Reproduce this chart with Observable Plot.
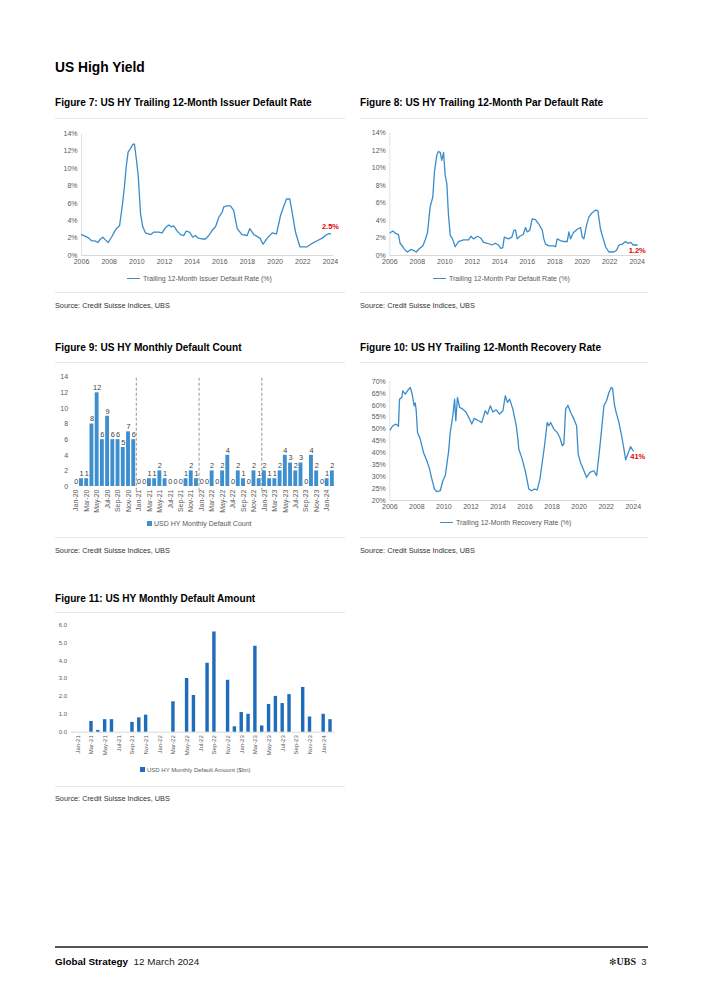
<!DOCTYPE html>
<html><head><meta charset="utf-8">
<script src="https://cdn.jsdelivr.net/npm/d3@7"></script>
<script src="https://cdn.jsdelivr.net/npm/@observablehq/plot@0.6"></script>
<style>
body{margin:0;background:#fff;font-family:"Liberation Sans",Arial,sans-serif;}
#page{position:relative;width:702px;height:992px;overflow:hidden;background:#fff;}
.abs{position:absolute;white-space:nowrap;line-height:1;}
.h1{font-weight:bold;font-size:13.8px;color:#000;}
.ft{font-weight:bold;font-size:10.1px;color:#000;}
.src{font-size:7.3px;color:#333;}
.sep{position:absolute;height:1px;background:#e8e8e8;}
.leg{font-size:7px;color:#595959;}
.chart{position:absolute;}
.chart svg{overflow:visible;}
</style></head><body><div id="page"></div>
<script>
// ---------- DATA ----------
const issuerYears = [2006.0,2006.29,2006.53,2006.72,2007.01,2007.2,2007.37,2007.54,2007.73,2007.93,2008.17,2008.41,2008.58,2008.75,2008.94,2009.11,2009.23,2009.37,2009.54,2009.71,2009.83,2009.98,2010.1,2010.27,2010.43,2010.63,2010.99,2011.23,2011.59,2011.83,2012.07,2012.31,2012.51,2012.67,2012.92,2013.16,2013.4,2013.57,2013.81,2014.05,2014.24,2014.43,2014.72,2014.96,2015.2,2015.45,2015.69,2015.93,2016.17,2016.29,2016.5,2016.77,2017.0,2017.26,2017.6,2017.98,2018.17,2018.46,2018.9,2019.13,2019.43,2019.79,2020.1,2020.39,2020.63,2020.82,2021.06,2021.23,2021.47,2021.79,2022.32,2022.68,2023.04,2023.4,2023.72,2023.88,2024.0];
const issuerRate = [2.4,2.2,2.0,1.7,1.65,1.5,1.9,2.1,1.8,1.5,2.1,2.8,3.2,3.4,5.6,8.0,10.2,11.9,12.3,12.8,12.8,10.9,9.2,4.8,3.3,2.6,2.4,2.7,2.7,2.6,3.2,3.5,3.3,3.4,2.8,2.4,2.3,2.8,2.7,2.1,2.3,2.0,1.9,1.9,2.3,2.9,3.3,4.4,5.0,5.6,5.7,5.7,5.2,3.1,2.4,2.3,3.1,2.4,2.0,1.3,2.0,2.6,2.5,4.6,5.7,6.5,6.5,5.0,2.7,1.0,1.0,1.4,1.7,2.0,2.4,2.5,2.5];

const parYears = [2006.03,2006.22,2006.46,2006.63,2006.75,2006.95,2007.12,2007.29,2007.53,2007.72,2007.92,2008.16,2008.4,2008.58,2008.74,2008.94,2009.13,2009.25,2009.42,2009.54,2009.67,2009.78,2009.91,2010.03,2010.15,2010.27,2010.4,2010.56,2010.76,2011.0,2011.36,2011.73,2011.9,2012.09,2012.38,2012.62,2012.82,2013.11,2013.42,2013.67,2013.91,2014.08,2014.22,2014.33,2014.64,2014.88,2015.03,2015.15,2015.27,2015.46,2015.71,2015.88,2016.0,2016.19,2016.36,2016.6,2016.84,2017.09,2017.21,2017.33,2017.57,2017.94,2018.06,2018.18,2018.42,2018.66,2018.91,2019.03,2019.15,2019.35,2019.64,2019.88,2020.0,2020.12,2020.32,2020.48,2020.73,2020.97,2021.14,2021.33,2021.53,2021.7,2021.94,2022.3,2022.5,2022.67,2022.91,2023.15,2023.32,2023.52,2023.71,2024.0];
const parRate = [2.6,2.8,2.5,2.4,1.4,1.0,0.6,0.4,0.7,0.6,0.4,0.8,1.1,1.8,2.6,5.6,6.7,9.6,11.5,11.9,11.8,10.9,11.8,9.2,8.2,4.6,2.3,1.9,1.0,1.6,1.8,1.8,2.2,1.9,2.2,2.0,1.5,1.4,1.2,1.4,1.2,0.8,0.9,2.1,1.9,2.1,2.9,2.9,1.9,2.2,2.4,3.2,2.7,2.9,4.2,4.1,3.6,2.9,1.9,1.3,1.1,1.1,1.0,1.9,1.7,1.6,1.6,2.7,1.9,2.6,3.0,3.2,2.1,1.9,3.5,4.4,4.9,5.2,5.1,3.0,1.9,1.0,0.4,0.4,0.6,1.2,1.3,1.6,1.4,1.5,1.2,1.2];

const recYears = [2006.03,2006.22,2006.47,2006.64,2006.72,2006.89,2006.96,2007.14,2007.31,2007.51,2007.63,2007.8,2007.88,2007.95,2008.05,2008.25,2008.49,2008.74,2008.94,2009.11,2009.3,2009.48,2009.73,2009.92,2010.1,2010.34,2010.47,2010.66,2010.79,2010.88,2011.0,2011.16,2011.4,2011.65,2011.9,2012.06,2012.24,2012.56,2012.8,2013.06,2013.23,2013.43,2013.62,2013.87,2014.11,2014.36,2014.54,2014.7,2014.86,2015.1,2015.35,2015.47,2015.54,2015.79,2016.04,2016.28,2016.46,2016.7,2016.9,2017.1,2017.27,2017.44,2017.64,2017.76,2017.89,2018.13,2018.38,2018.57,2018.75,2018.87,2019.0,2019.17,2019.37,2019.61,2019.81,2019.93,2020.1,2020.3,2020.55,2020.79,2021.09,2021.29,2021.46,2021.64,2021.83,2022.03,2022.2,2022.37,2022.47,2022.62,2022.77,2022.94,2023.14,2023.31,2023.44,2023.6,2023.8,2024.0];
const recRate = [49.7,51.4,52.1,51.2,62.6,63.3,66.1,64.7,66.1,67.5,65.4,59.8,61.0,58.0,48.6,45.8,40.2,36.7,33.2,29.0,24.8,23.7,24.1,28.3,30.4,40.2,48.6,55.6,62.6,53.5,63.3,59.1,58.4,57.0,54.2,52.1,54.5,53.5,52.8,57.7,56.3,59.8,57.2,58.1,56.3,57.7,64.0,61.2,62.6,58.4,51.4,45.8,41.6,37.4,31.8,24.8,24.1,24.8,24.5,29.0,36.0,43.0,52.8,51.4,52.8,50.0,48.6,46.5,43.0,43.7,58.4,60.0,57.0,54.2,51.4,39.5,36.0,33.2,29.7,31.8,32.5,30.4,38.8,48.6,59.8,62.0,65.4,67.5,67.1,59.8,56.3,52.8,47.2,41.6,37.1,39.5,42.6,40.8];

const countMonths = ["Jan-20","Feb-20","Mar-20","Apr-20","May-20","Jun-20","Jul-20","Aug-20","Sep-20","Oct-20","Nov-20","Dec-20",
"Jan-21","Feb-21","Mar-21","Apr-21","May-21","Jun-21","Jul-21","Aug-21","Sep-21","Oct-21","Nov-21","Dec-21",
"Jan-22","Feb-22","Mar-22","Apr-22","May-22","Jun-22","Jul-22","Aug-22","Sep-22","Oct-22","Nov-22","Dec-22",
"Jan-23","Feb-23","Mar-23","Apr-23","May-23","Jun-23","Jul-23","Aug-23","Sep-23","Oct-23","Nov-23","Dec-23",
"Jan-24","Feb-24"];
const defaultCount = [0,1,1,8,12,6,9,6,6,5,7,6, 0,0,1,1,2,1,0,0,0,1,2,1, 0,0,2,0,2,4,0,2,1,0,2,1, 2,1,1,2,4,3,2,3,0,4,2,0, 1,2];
const yearBreaks = [11.5,23.5,35.5];

const amountMonths = ["Jan-21","Feb-21","Mar-21","Apr-21","May-21","Jun-21","Jul-21","Aug-21","Sep-21","Oct-21","Nov-21","Dec-21",
"Jan-22","Feb-22","Mar-22","Apr-22","May-22","Jun-22","Jul-22","Aug-22","Sep-22","Oct-22","Nov-22","Dec-22",
"Jan-23","Feb-23","Mar-23","Apr-23","May-23","Jun-23","Jul-23","Aug-23","Sep-23","Oct-23","Nov-23","Dec-23",
"Jan-24","Feb-24"];
const defaultAmount = [0,0,0.6,0.1,0.7,0.7,0,0,0.55,0.8,0.95,0, 0,0,1.7,0,3.0,2.05,0,3.85,5.6,0,2.9,0.3, 1.1,1.0,4.8,0.35,1.55,2.0,1.6,2.1,0,2.5,0.85,0, 1.0,0.7];

const yearTicks = [2006,2008,2010,2012,2014,2016,2018,2020,2022,2024];
const pctTicks = [0,2,4,6,8,10,12,14];
const recTicks = [20,25,30,35,40,45,50,55,60,65,70];
const countTicks = [0,2,4,6,8,10,12,14];
const amountTicks = [0,1,2,3,4,5,6];

// ---------- PAGE ----------
const page = document.getElementById("page");
function txt(cls, s, left, top, extra) {
  const d = document.createElement("div");
  d.className = "abs " + cls; d.textContent = s;
  d.style.left = left + "px"; d.style.top = top + "px";
  if (extra) Object.assign(d.style, extra);
  page.appendChild(d); return d;
}
function sep(left, top, width) {
  const d = document.createElement("div");
  d.className = "sep"; d.style.left = left + "px"; d.style.top = top + "px"; d.style.width = width + "px";
  page.appendChild(d);
}
function place(svg, left, top) {
  const d = document.createElement("div");
  d.className = "chart"; d.style.left = left + "px"; d.style.top = top + "px";
  d.appendChild(svg); page.appendChild(d);
}
function lineLegend(label, left, top) {
  const d = document.createElement("div");
  d.className = "abs leg"; d.style.left = left + "px"; d.style.top = top + "px";
  d.innerHTML = '<span style="display:inline-block;width:13px;height:0;border-top:1.5px solid #3a8ccb;vertical-align:middle;margin-right:3px;position:relative;top:-1px"></span>' + label;
  page.appendChild(d);
}
function boxLegend(label, left, top, color, fs) {
  const d = document.createElement("div");
  d.className = "abs leg"; d.style.left = left + "px"; d.style.top = top + "px"; d.style.fontSize = fs + "px";
  d.innerHTML = '<span style="display:inline-block;width:5px;height:5px;background:' + color + ';margin-right:2px;vertical-align:middle;position:relative;top:-1px"></span>' + label;
  page.appendChild(d);
}

txt("h1", "US High Yield", 55, 61);
txt("ft", "Figure 7: US HY Trailing 12-Month Issuer Default Rate", 55, 98);
txt("ft", "Figure 8: US HY Trailing 12-Month Par Default Rate", 360, 98);
txt("ft", "Figure 9: US HY Monthly Default Count", 55, 343);
txt("ft", "Figure 10: US HY Trailing 12-Month Recovery Rate", 360, 343);
txt("ft", "Figure 11: US HY Monthly Default Amount", 55, 594);
sep(55, 118, 290); sep(360, 118, 288);
sep(55, 292, 290); sep(360, 292, 288);
sep(55, 362, 290); sep(360, 362, 288);
sep(55, 537, 290); sep(360, 537, 288);
sep(55, 612, 290);
sep(55, 786, 290);
txt("src", "Source: Credit Suisse Indices, UBS", 55, 301.5);
txt("src", "Source: Credit Suisse Indices, UBS", 360, 301.5);
txt("src", "Source: Credit Suisse Indices, UBS", 55, 546.5);
txt("src", "Source: Credit Suisse Indices, UBS", 360, 546.5);
txt("src", "Source: Credit Suisse Indices, UBS", 55, 794.5);

// footer
const fl = document.createElement("div");
Object.assign(fl.style, {position:"absolute", left:"55px", top:"946px", width:"593px", height:"1.5px", background:"#555"});
page.appendChild(fl);
txt("", "", 55, 952).innerHTML = '<span style="font-weight:bold;font-size:9.9px;color:#000">Global Strategy</span><span style="font-size:9.9px;color:#222">&nbsp;&nbsp;12 March 2024</span>';
txt("", "", 609, 952).innerHTML = '<span style="font-family:\'DejaVu Sans\';font-size:9px;color:#222">✻</span><span style="font-family:\'Liberation Serif\';font-weight:bold;font-size:10px;color:#222">UBS</span><span style="font-size:9.5px;color:#222">&nbsp;&nbsp;3</span>';

// ---------- CHARTS ----------
const baseStyle = {fontFamily:"'Liberation Sans', Arial, sans-serif", fontSize:"7px", color:"#595959", background:"transparent", overflow:"visible"};
const blue = "#3a8ccb";
const pct = d => d + "%";

function lineChart(o) {
  const data = o.xs.map((x, i) => ({x, y: o.ys[i]}));
  const last = data[data.length - 1];
  return Plot.plot({
    width: o.width, height: o.height,
    marginLeft: o.ml, marginRight: o.mr, marginTop: o.mt, marginBottom: o.mb,
    style: baseStyle,
    x: {domain: o.xdomain, ticks: yearTicks, tickFormat: "d", tickSize: 0, tickPadding: 4, label: null},
    y: {domain: o.ydomain, ticks: o.yticks, tickFormat: pct, tickSize: 0, tickPadding: 4, label: null},
    marks: [
      Plot.ruleY([o.ydomain[0]], {stroke: "#d9d9d9"}),
      Plot.ruleX([o.xdomain[0]], {stroke: "#e3e3e3"}),
      Plot.line(data, {x: "x", y: "y", stroke: blue, strokeWidth: 1.3}),
      Plot.text([last], {x: "x", y: "y", text: () => o.label, fill: "#e60000", fontWeight: "bold", fontSize: 7.5, dx: o.ldx, dy: o.ldy, textAnchor: o.anchor})
    ]
  });
}

place(lineChart({xs: issuerYears, ys: issuerRate, width: 290, height: 150, ml: 26, mr: 12, mt: 8.3, mb: 20,
  xdomain: [2006, 2024.22], ydomain: [0, 14], yticks: pctTicks, label: "2.5%", ldx: 0, ldy: -7, anchor: "middle"}), 55, 125);
lineLegend("Trailing 12-Month Issuer Default Rate (%)", 127, 275);

place(lineChart({xs: parYears, ys: parRate, width: 290, height: 150, ml: 29.3, mr: 10, mt: 7.7, mb: 20,
  xdomain: [2006, 2024.24], ydomain: [0, 14], yticks: pctTicks, label: "1.2%", ldx: 0, ldy: 6, anchor: "middle"}), 360, 125);
lineLegend("Trailing 12-Month Par Default Rate (%)", 433, 275);

place(lineChart({xs: recYears, ys: recRate, width: 290, height: 150, ml: 29.3, mr: 14, mt: 9, mb: 22,
  xdomain: [2006, 2024.24], ydomain: [20, 70], yticks: recTicks, label: "41%", ldx: -3, ldy: 6, anchor: "start"}), 360, 372);
lineLegend("Trailing 12-Month Recovery Rate (%)", 440, 519);

// Figure 9
const countData = defaultCount.map((v, i) => ({i, v}));
place(Plot.plot({
  width: 290, height: 155, marginLeft: 17.6, marginRight: 10, marginTop: 11.7, marginBottom: 34,
  style: baseStyle,
  x: {domain: [-0.6, 49.6], ticks: d3.range(0, 50, 2), tickFormat: i => countMonths[i], tickRotate: -90, tickSize: 0, tickPadding: 3, label: null},
  y: {domain: [0, 14], ticks: countTicks, tickSize: 0, tickPadding: 5, label: null},
  marks: [
    Plot.ruleX(yearBreaks, {y1: -0.6, y2: 14, stroke: "#a6a6a6", strokeWidth: 1.2, strokeDasharray: "3,2"}),
    Plot.rectY(countData, {x1: d => d.i - 0.37, x2: d => d.i + 0.37, y1: 0, y2: "v", fill: "#3d8fd0"}),
    Plot.text(countData, {x: "i", y: "v", text: d => String(d.v), dy: -5, fontSize: 7.3, fill: "#404040"})
  ]
}), 55, 365);
boxLegend("USD HY Monthly Default Count", 147, 520, "#3d8fd0", 7);

// Figure 11
const amountData = defaultAmount.map((v, i) => ({i, v}));
place(Plot.plot({
  width: 290, height: 150, marginLeft: 15.5, marginRight: 10.9, marginTop: 9.3, marginBottom: 33.3,
  style: {...baseStyle, fontSize: "6px"},
  x: {domain: [-1, 37.6], ticks: d3.range(0, 38, 2), tickFormat: i => amountMonths[i], tickRotate: -90, tickSize: 0, tickPadding: 3, label: null},
  y: {domain: [0, 6], ticks: amountTicks, tickFormat: ".1f", tickSize: 0, tickPadding: 4, label: null},
  marks: [
    Plot.ruleY([0], {stroke: "#d9d9d9"}),
    Plot.rectY(amountData.filter(d => d.v > 0), {x1: d => d.i - 0.25, x2: d => d.i + 0.25, y1: 0, y2: "v", fill: "#1f6db9"})
  ]
}), 55, 615);
boxLegend("USD HY Monthly Default Amount ($bn)", 140, 767, "#1f6db9", 6);
</script></body></html>
